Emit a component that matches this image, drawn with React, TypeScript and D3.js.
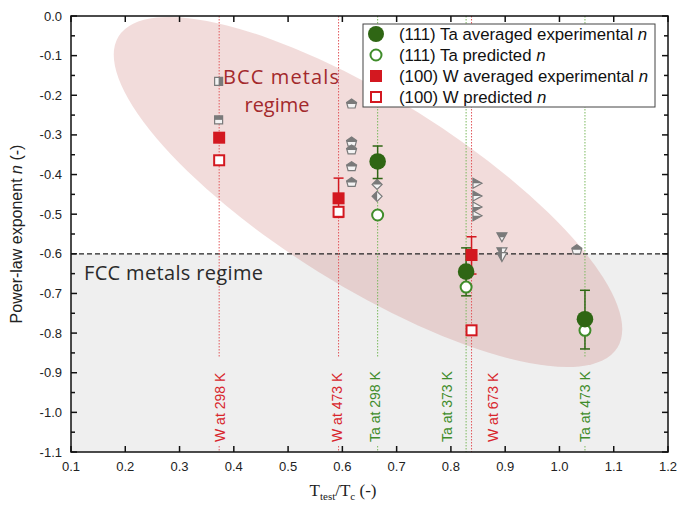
import React from "react";
import * as d3 from "d3";

// Ta (111) data
const taT = [0.665, 0.828, 1.047];
const taExp = [-0.367, -0.645, -0.765];
const taErrTop = [-0.328, -0.585, -0.692];
const taErrBot = [-0.41, -0.706, -0.84];
const taPred = [-0.502, -0.684, -0.793];

// W (100) data
const wT = [0.373, 0.593, 0.838];
const wExp = [-0.307, -0.46, -0.603];
const wErrTop = [-0.307, -0.409, -0.557];
const wErrBot = [-0.307, -0.508, -0.651];
const wPred = [-0.364, -0.494, -0.793];

// other BCC metals (grey symbols)
const greySquares = [
  { t: 0.372, n: -0.165, half: "right" },
  { t: 0.372, n: -0.262, half: "top" },
];
const greyPentagons = [
  { t: 0.617, n: -0.222 },
  { t: 0.617, n: -0.318 },
  { t: 0.617, n: -0.338 },
  { t: 0.617, n: -0.38 },
  { t: 0.617, n: -0.42 },
  { t: 1.032, n: -0.59 },
];
const greyDiamonds = [
  { t: 0.664, n: -0.425 },
  { t: 0.664, n: -0.455 },
];
const greyRightTri = [
  { t: 0.848, n: -0.422 },
  { t: 0.848, n: -0.454 },
  { t: 0.848, n: -0.482 },
  { t: 0.848, n: -0.504 },
];
const greyDownTri = [
  { t: 0.894, n: -0.557 },
  { t: 0.894, n: -0.595 },
  { t: 0.894, n: -0.607 },
];

// temperature guide lines and their labels
const guideLines = [
  { label: "W at 298 K", line: 0.373, text: 0.375, kind: "W" },
  { label: "W at 473 K", line: 0.593, text: 0.59, kind: "W" },
  { label: "Ta at 298 K", line: 0.665, text: 0.661, kind: "Ta" },
  { label: "Ta at 373 K", line: 0.828, text: 0.792, kind: "Ta" },
  { label: "W at 673 K", line: 0.838, text: 0.877, kind: "W" },
  { label: "Ta at 473 K", line: 1.047, text: 1.047, kind: "Ta" },
];

const xTicks = d3.range(0.1, 1.2001, 0.1);
const yTicks = d3.range(0, -1.1001, -0.1);
const yMinor = d3.range(-0.05, -1.1, -0.1);
const fccLimit = -0.6;

const legendItems = [
  { text: "(111) Ta averaged experimental ", mark: "taExp" },
  { text: "(111) Ta predicted ", mark: "taPred" },
  { text: "(100) W averaged experimental ", mark: "wExp" },
  { text: "(100) W predicted ", mark: "wPred" },
];

const GREEN = "#2f6614";
const GREEN_L = "#3f8c2a";
const RED = "#d31820";
const RED_T = "#d8262c";
const GREY = "#7a7a7a";

const App = () => {
  const left = 71, right = 668, top = 16, bottom = 452;
  const x = d3.scaleLinear().domain([0.1, 1.2]).range([left, right]);
  const y = d3.scaleLinear().domain([0, -1.1]).range([top, bottom]);
  const sans = "'Liberation Sans', Arial, sans-serif";

  const errBar = (cx: number, y1: number, y2: number, color: string, key: string) => (
    <g key={key} stroke={color} strokeWidth={1.5}>
      <line x1={cx} x2={cx} y1={y(y1)} y2={y(y2)} />
      <line x1={cx - 5} x2={cx + 5} y1={y(y1)} y2={y(y1)} />
      <line x1={cx - 5} x2={cx + 5} y1={y(y2)} y2={y(y2)} />
    </g>
  );

  const greyShape = (full: string, half: string, t: number, n: number, key: string) => (
    <g key={key} transform={`translate(${x(t)},${y(n)})`}>
      <path d={full} fill="#f3f3f3" stroke={GREY} strokeWidth={1.2} />
      <path d={half} fill={GREY} />
    </g>
  );

  const legendMark = (mark: string) => {
    if (mark === "taExp") return <circle r={8} fill={GREEN} />;
    if (mark === "taPred") return <circle r={5.5} fill="white" stroke={GREEN_L} strokeWidth={2} />;
    if (mark === "wExp") return <rect x={-6} y={-6} width={12} height={12} fill={RED} />;
    return <rect x={-5} y={-5} width={10} height={10} fill="white" stroke={RED} strokeWidth={2} />;
  };

  return (
    <svg width={686} height={511} style={{ position: "absolute", left: 0, top: 0, background: "white" }}>
      {/* FCC region */}
      <rect x={left} y={y(fccLimit)} width={right - left} height={bottom - y(fccLimit)} fill="#efefef" />
      {/* BCC ellipse */}
      <ellipse cx={368} cy={192} rx={294} ry={94} transform="rotate(32 368 192)" fill="#c0504d" fillOpacity={0.2} />
      <line x1={left} x2={right} y1={y(fccLimit)} y2={y(fccLimit)} stroke="#222" strokeWidth={1.3} strokeDasharray="5,3" />

      {/* guide lines */}
      {guideLines.map((g) => {
        const col = g.kind === "W" ? "#e2585c" : "#7ab85c";
        const onLine = Math.abs(g.text - g.line) < 0.02;
        const textTop = 362, textBot = 442;
        return (
          <g key={g.label}>
            {onLine ? (
              <>
                <line x1={x(g.line)} x2={x(g.line)} y1={top} y2={textTop - 4} stroke={col} strokeWidth={1} strokeDasharray="1.5,1.5" />
                <line x1={x(g.line)} x2={x(g.line)} y1={textBot + 4} y2={bottom} stroke={col} strokeWidth={1} strokeDasharray="1.5,1.5" />
              </>
            ) : (
              <line x1={x(g.line)} x2={x(g.line)} y1={top} y2={bottom} stroke={col} strokeWidth={1} strokeDasharray="1.5,1.5" />
            )}
            <text
              transform={`translate(${x(g.text) + 5},${textBot}) rotate(-90)`}
              fontFamily={sans}
              fontSize={14}
              fill={g.kind === "W" ? RED_T : GREEN_L}
            >
              {g.label}
            </text>
          </g>
        );
      })}

      {/* grey literature symbols */}
      {greySquares.map((d, i) =>
        greyShape(
          "M-4,-4H4V4H-4Z",
          d.half === "top" ? "M-4,-4H4V0H-4Z" : "M0,-4H4V4H0Z",
          d.t, d.n, "sq" + i
        )
      )}
      {greyPentagons.map((d, i) =>
        greyShape("M0,-5L5,-1.5L3.5,4H-3.5L-5,-1.5Z", "M0,-5L5,-1.5L4.5,0H-4.5L-5,-1.5Z", d.t, d.n, "pe" + i)
      )}
      {greyDiamonds.map((d, i) =>
        greyShape("M0,-5L5,0L0,5L-5,0Z", i === 0 ? "M-5,0L0,-5L5,0Z" : "M0,-5L0,5L-5,0Z", d.t, d.n, "di" + i)
      )}
      {greyRightTri.map((d, i) =>
        greyShape("M-4,-5L5,0L-4,5Z", i < 2 ? "M-4,-5L5,0L-4,0Z" : "M-4,0L5,0L-4,5Z", d.t, d.n, "rt" + i)
      )}
      {greyDownTri.map((d, i) =>
        greyShape("M-5,-4H5L0,5Z", i === 0 ? "M-5,-4H5L2.5,0.5H-2.5Z" : "M-5,-4H0V5Z", d.t, d.n, "dt" + i)
      )}

      {/* error bars */}
      {taT.map((t, i) => errBar(x(t), taErrTop[i], taErrBot[i], GREEN, "tae" + i))}
      {wT.map((t, i) => (wErrTop[i] !== wErrBot[i] ? errBar(x(t), wErrTop[i], wErrBot[i], RED, "we" + i) : null))}

      {/* W markers */}
      {wT.map((t, i) => (
        <rect key={"wp" + i} x={x(t) - 5} y={y(wPred[i]) - 5} width={10} height={10} fill="white" stroke={RED} strokeWidth={2} />
      ))}
      {wT.map((t, i) => (
        <rect key={"wx" + i} x={x(t) - 6} y={y(wExp[i]) - 6} width={12} height={12} fill={RED} />
      ))}

      {/* Ta markers */}
      {taT.map((t, i) => (
        <circle key={"tp" + i} cx={x(t)} cy={y(taPred[i])} r={5.5} fill="white" stroke={GREEN_L} strokeWidth={2} />
      ))}
      {taT.map((t, i) => (
        <circle key={"tx" + i} cx={x(t)} cy={y(taExp[i])} r={8.3} fill={GREEN} />
      ))}

      {/* region labels */}
      <text x={84} y={280} fontFamily="'Open Sans', sans-serif" fontSize={20} fill="#2a2a2a" textLength={179}>
        FCC metals regime
      </text>
      <text x={223} y={84} fontFamily="'Open Sans', sans-serif" fontSize={20} fill="#a3292c" textLength={116}>
        BCC metals
      </text>
      <text x={277} y={112} fontFamily="'Open Sans', sans-serif" fontSize={20} fill="#a3292c" textAnchor="middle">
        regime
      </text>

      {/* frame and ticks */}
      <rect x={left} y={top} width={right - left} height={bottom - top} fill="none" stroke="#111" strokeWidth={1.5} />
      {xTicks.map((t) => (
        <g key={"xt" + t.toFixed(1)} stroke="#111" strokeWidth={1.5}>
          <line x1={x(t)} x2={x(t)} y1={bottom} y2={bottom - 6} />
          <line x1={x(t)} x2={x(t)} y1={top} y2={top + 6} />
        </g>
      ))}
      {yTicks.map((t) => (
        <g key={"yt" + t.toFixed(1)} stroke="#111" strokeWidth={1.5}>
          <line x1={left} x2={left + 6} y1={y(t)} y2={y(t)} />
          <line x1={right} x2={right - 6} y1={y(t)} y2={y(t)} />
        </g>
      ))}
      {yMinor.map((t) => (
        <g key={"ym" + t.toFixed(2)} stroke="#111" strokeWidth={1.5}>
          <line x1={left} x2={left + 4} y1={y(t)} y2={y(t)} />
          <line x1={right} x2={right - 4} y1={y(t)} y2={y(t)} />
        </g>
      ))}
      {xTicks.map((t) => (
        <text key={"xl" + t.toFixed(1)} x={x(t)} y={471} textAnchor="middle" fontFamily={sans} fontSize={13} fill="#222">
          {t.toFixed(1)}
        </text>
      ))}
      {yTicks.map((t) => (
        <text key={"yl" + t.toFixed(1)} x={62} y={y(t) + 4.5} textAnchor="end" fontFamily={sans} fontSize={13} fill="#222">
          {Math.abs(t) < 1e-9 ? "0.0" : t.toFixed(1)}
        </text>
      ))}

      {/* axis titles */}
      <text transform={`translate(22,${(top + bottom) / 2}) rotate(-90)`} textAnchor="middle" fontFamily={sans} fontSize={16} fill="#222">
        Power-law exponent <tspan fontStyle="italic">n</tspan> (-)
      </text>
      <text x={343} y={496} textAnchor="middle" fontFamily="'Liberation Serif', 'Times New Roman', serif" fontSize={17} fill="#222">
        T<tspan fontSize={11} dy={4}>test</tspan>
        <tspan dy={-4}>/T</tspan>
        <tspan fontSize={11} dy={4}>c</tspan>
        <tspan dy={-4}> (-)</tspan>
      </text>

      {/* legend */}
      <rect x={363} y={24} width={292} height={83} fill="white" stroke="#444" strokeWidth={1} />
      {legendItems.map((d, i) => (
        <g key={d.mark} transform={`translate(0,${34 + i * 21})`}>
          <g transform="translate(376,0)">{legendMark(d.mark)}</g>
          <text x={399} y={6} fontFamily={sans} fontSize={16.8} fill="#111">
            {d.text}
            <tspan fontStyle="italic">n</tspan>
          </text>
        </g>
      ))}
    </svg>
  );
};

export default App;
